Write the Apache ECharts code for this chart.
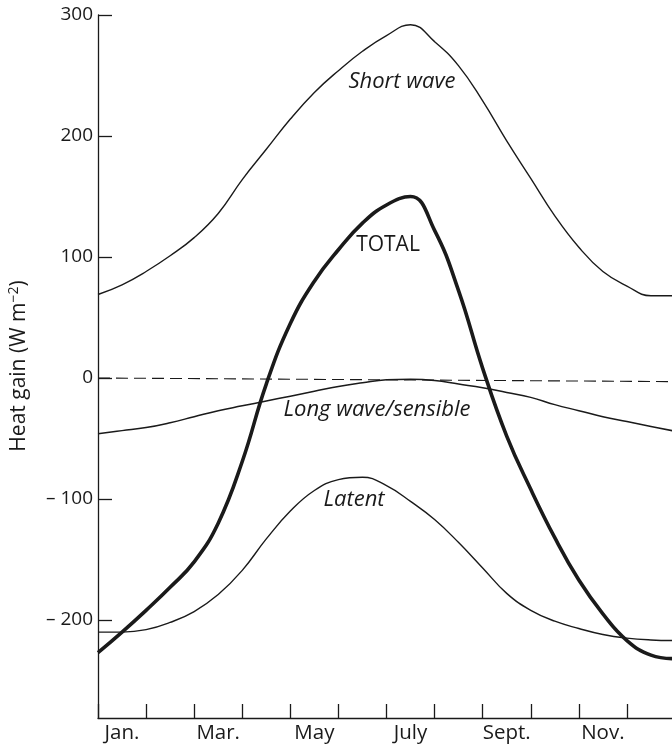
<!DOCTYPE html>
<html>
<head>
<meta charset="utf-8">
<script src="https://cdn.jsdelivr.net/npm/echarts@6/dist/echarts.min.js"></script>
<style>
  html, body { margin: 0; padding: 0; background: #fff; }
  #chart { width: 672px; height: 747px; }
</style>
</head>
<body>
<div id="chart"></div>
<script>
// month labels (every other month is labelled)
var monthLabels = ["Jan.", "", "Mar.", "", "May", "", "July", "", "Sept.", "", "Nov.", ""];
var yTicks = [-200, -100, 0, 100, 200, 300];

// months since 1 Jan, read every half month
var months = [0, 0.5, 1, 1.5, 2, 2.5, 3, 3.5, 4, 4.5, 5, 5.5, 6, 6.5, 7, 7.5, 8, 8.5, 9, 9.5, 10, 10.5, 11, 11.5, 12];

// heat gain, W m-2
var shortWave = [69, 77, 88, 101, 116, 136, 164, 189, 214, 236, 254, 270, 283, 292, 278, 258, 229, 196, 165, 134, 108, 88, 76, 68, 68];
var total = [-227, -210, -192, -173, -152, -120, -69, -5, 45, 80, 106, 128, 143, 150, 122, 72, 8, -48, -92, -132, -167, -195, -217, -229, -232];
var longWave = [-46, -43.5, -41, -37, -32, -27, -23, -19, -15, -11, -7, -4, -1.5, -1, -2, -5, -8, -12, -16, -22, -27, -32, -36, -40, -44];
var latent = [-210, -210, -208, -202, -193, -179, -159, -133, -110, -93, -84, -82, -89, -102, -117, -136, -157, -178, -192, -201, -207, -212, -215, -216.5, -217];
var zeroLine = [[0, 0], [12, -3]];

var ink = "#1a1a1a";
var font = "Open Sans";

var chart = echarts.init(document.getElementById("chart"));

function pairs(values) {
  return values.map(function (v, i) { return [months[i], v]; });
}

function curve(name, values, width) {
  return {
    name: name,
    type: "line",
    xAxisIndex: 1,
    data: pairs(values),
    smooth: 0.45,
    showSymbol: false,
    silent: true,
    lineStyle: { color: ink, width: width }
  };
}

function note(text, x, y, size, italic) {
  return {
    type: "text", x: x, y: y,
    style: {
      text: text, align: "center", verticalAlign: "middle",
      fontFamily: font, fontStyle: italic ? "italic" : "normal",
      fontSize: size, fill: ink
    }
  };
}

chart.setOption({
  animation: false,
  grid: {
    left: 98, top: 15, width: 577, height: 703,
    containLabel: false, outerBoundsMode: "none"
  },
  xAxis: [
    {
      type: "category",
      data: monthLabels,
      boundaryGap: true,
      axisLine: { show: true, onZero: false, lineStyle: { color: ink, width: 1.3 } },
      axisTick: { show: true, inside: true, length: 14, interval: 0, lineStyle: { color: ink, width: 1.3 } },
      axisLabel: { interval: 0, margin: 5, color: ink, fontFamily: font, fontSize: 20.5 },
      splitLine: { show: false }
    },
    { type: "value", min: 0, max: 12, show: false }
  ],
  yAxis: {
    type: "value",
    min: -281,
    max: 300,
    axisLine: { show: true, lineStyle: { color: ink, width: 1.3 } },
    axisTick: { show: true, inside: true, length: 14, customValues: yTicks, lineStyle: { color: ink, width: 1.3 } },
    axisLabel: {
      customValues: yTicks,
      margin: 5,
      color: ink,
      fontFamily: font,
      fontSize: 19,
      formatter: function (v) {
        return v < 0 ? "\u2013 " + Math.abs(v) : String(v);
      }
    },
    splitLine: { show: false }
  },
  graphic: [
    {
      type: "text", x: 19, y: 366, rotation: Math.PI / 2,
      style: {
        text: "Heat gain (W m{sup|\u22122})",
        rich: { sup: { fontSize: 14, verticalAlign: "top", padding: [0, 0, 9, 0], fontFamily: font, fill: ink } },
        align: "center", verticalAlign: "middle",
        fontFamily: font, fontSize: 21, fill: ink
      }
    },
    note("Short wave", 402, 82, 22, true),
    note("TOTAL", 388, 245, 21, false),
    note("Long wave/sensible", 377, 410, 22, true),
    note("Latent", 354, 500, 22, true)
  ],
  series: [
    {
      name: "zero",
      type: "line",
      xAxisIndex: 1,
      data: zeroLine,
      showSymbol: false,
      silent: true,
      lineStyle: { color: ink, width: 1.1, type: [12, 6] }
    },
    curve("Short wave", shortWave, 1.4),
    curve("Long wave/sensible", longWave, 1.5),
    curve("Latent", latent, 1.4),
    curve("TOTAL", total, 3.6)
  ]
});
</script>
</body>
</html>
